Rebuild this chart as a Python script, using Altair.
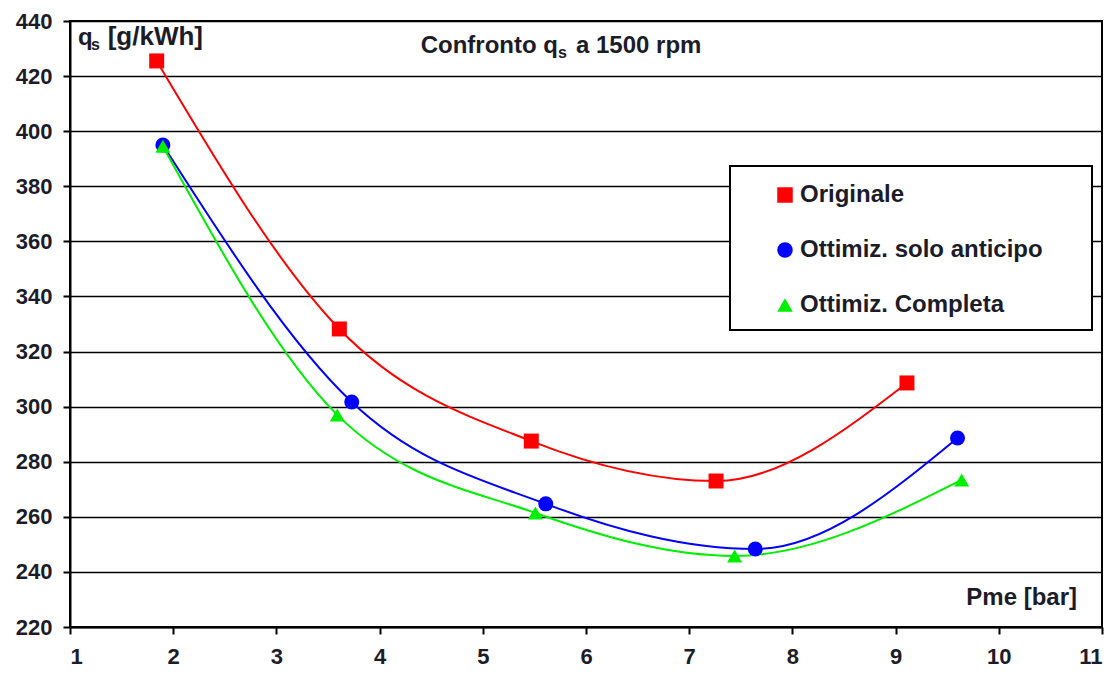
import altair as alt
import pandas as pd

series_names = ["Originale", "Ottimiz. solo anticipo", "Ottimiz. Completa"]
pme_orig = [1.84, 3.61, 5.47, 7.26, 9.11]
qs_orig = [425.5, 328.2, 287.5, 273.0, 308.6]
pme_ant = [1.90, 3.73, 5.61, 7.64, 9.60]
qs_ant = [395.0, 301.7, 264.7, 248.3, 288.6]
pme_comp = [1.90, 3.59, 5.51, 7.44, 9.64]
qs_comp = [394.5, 297.0, 261.4, 245.8, 273.4]

colors = ["#ff0000", "#0000ff", "#00ee00"]
shapes = ["square", "circle", "triangle-up"]
x_ticks = list(range(1, 12))
y_ticks = list(range(220, 441, 20))

rows = []
for name, xs, ys in [(series_names[0], pme_orig, qs_orig),
                     (series_names[1], pme_ant, qs_ant),
                     (series_names[2], pme_comp, qs_comp)]:
    for i, (a, b) in enumerate(zip(xs, ys)):
        rows.append({"serie": name, "pme": a, "qs": b, "ord": i})
df = pd.DataFrame(rows)

FONT = "Liberation Sans"
TXT = "#1c1c28"

xenc = alt.X("pme:Q", scale=alt.Scale(domain=[1, 11], nice=False),
             axis=alt.Axis(values=x_ticks, title=None, grid=False, format="d"))
yenc = alt.Y("qs:Q", scale=alt.Scale(domain=[220, 440], nice=False),
             axis=alt.Axis(values=y_ticks, title=None, grid=True, format="d"))

base = alt.Chart(df)

line_layers = [
    base.transform_filter(alt.datum.serie == name)
    .mark_line(interpolate="monotone", strokeWidth=2, color=col)
    .encode(x=xenc, y=yenc, order="ord:Q")
    for name, col in zip(series_names, colors)
]

pts = base.mark_point(filled=True, size=225, opacity=1).encode(
    x=xenc, y=yenc,
    color=alt.Color("serie:N", scale=alt.Scale(domain=series_names, range=colors), title=None),
    shape=alt.Shape("serie:N", scale=alt.Scale(domain=series_names, range=shapes), title=None))

one = pd.DataFrame({"k": [0]})
box = alt.Chart(one).mark_rect(fill="white", stroke="black", strokeWidth=2).encode(
    x=alt.value(660), x2=alt.value(1022), y=alt.value(145), y2=alt.value(309))

def txt(s, x, y, size=24, align="left"):
    return alt.Chart(one).mark_text(text=s, font=FONT, fontWeight="bold", fontSize=size,
                                    color=TXT, align=align, baseline="alphabetic").encode(
        x=alt.value(x), y=alt.value(y))

texts = [
    txt("Confronto q", 488, 32, align="right"),
    txt("s", 488, 37, size=16),
    txt("a 1500 rpm", 506, 32),
    txt("q", 8, 24),
    txt("s", 21, 29, size=16),
    txt("[g/kWh]", 133, 24, size=26, align="right"),
    txt("Pme [bar]", 1007, 584, align="right"),
]

chart = alt.layer(box, *line_layers, pts, *texts).properties(
    width=1032, height=606,
    autosize=alt.AutoSizeParams(type="none"),
    padding={"left": 62, "top": 13, "right": 10, "bottom": 43},
).configure_view(stroke="black", strokeWidth=2).configure_axis(
    labelFont=FONT, labelFontSize=22, labelFontWeight="bold", labelColor=TXT,
    domainColor="black", domainWidth=2, tickColor="black", tickWidth=2, tickSize=7,
    gridColor="black", gridWidth=1.5, gridOpacity=1, labelPadding=11,
).configure_axisX(labelPadding=12).configure_legend(
    orient="none", legendX=703, legendY=162, padding=0,
    labelFont=FONT, labelFontSize=24, labelFontWeight="bold", labelColor=TXT,
    symbolSize=240, symbolStrokeWidth=0, labelOffset=3, rowPadding=31, labelLimit=400,
)

chart.save("out.html", embed_options={"renderer": "svg", "actions": False})
